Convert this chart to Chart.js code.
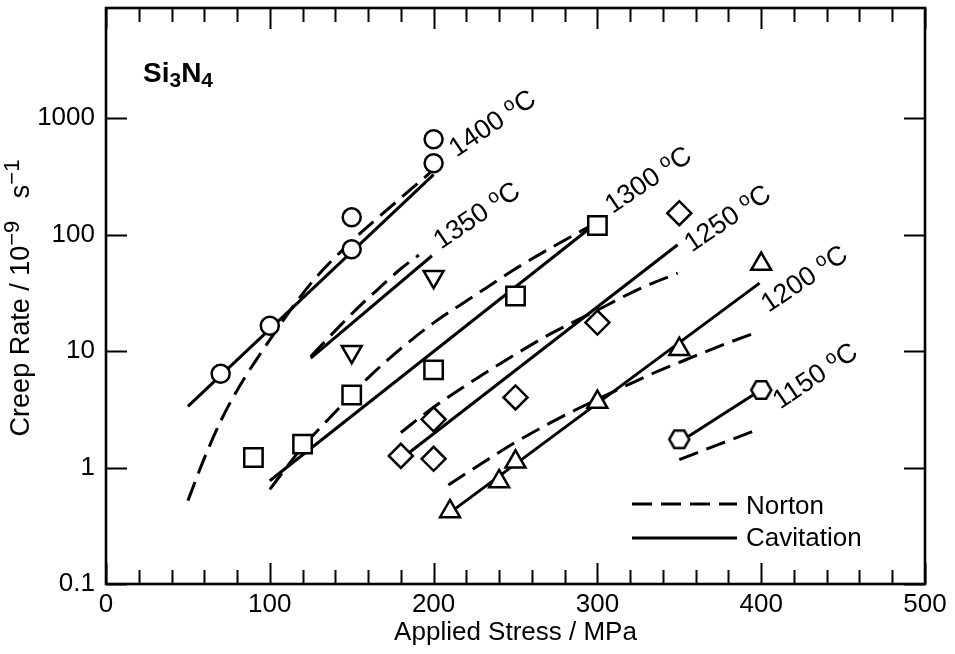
<!DOCTYPE html>
<html>
<head>
<meta charset="utf-8">
<title>Si3N4 creep rate vs applied stress</title>
<script src="https://cdn.jsdelivr.net/npm/chart.js@4.4.1/dist/chart.umd.min.js"></script>
<style>
  html, body { margin: 0; padding: 0; background: #fff; }
  canvas { display: block; }
</style>
</head>
<body>
<canvas id="chart" width="955" height="654"></canvas>
<script>
// ---- measured creep rates [stress MPa, rate 1e-9/s] ----
const pts1400 = [[70, 6.4], [100, 16.5], [150, 75], [150, 141], [200, 411], [200, 661]];
const pts1350 = [[150, 9.9], [200, 43.6]];
const pts1300 = [[90, 1.22], [120, 1.59], [150, 4.2], [200, 6.9], [250, 29.8], [300, 120]];
const pts1250 = [[180, 1.26], [200, 1.19], [200, 2.6], [250, 4.0], [300, 17.6], [350, 153]];
const pts1200 = [[210, 0.42], [240, 0.76], [250, 1.12], [300, 3.65], [350, 10.4], [400, 56]];
const pts1150 = [[350, 1.75], [400, 4.64]];

// ---- cavitation model fits ----
const cav1400 = [[50, 3.35], [200, 328]];
const cav1350 = [[125, 8.7], [199, 66]];
const cav1300 = [[100, 0.77], [300, 128]];
const cav1250 = [[185, 1.34], [349, 82]];
const cav1200 = [[210, 0.41], [399, 38.4]];
const cav1150 = [[350, 1.65], [400, 4.67]];

// ---- Norton (power law) fits ----
const nor1400 = [[50, 0.52], [60, 1.2], [70, 2.5], [80, 4.6], [100, 12.5], [125, 38], [150, 88], [175, 180], [200, 362]];
const nor1350 = [[125, 9.0], [140, 15], [155, 24.5], [165, 33], [180, 51], [191, 67]];
const nor1300 = [[100, 0.65], [120, 1.5], [140, 3.0], [160, 5.9], [180, 10.5], [200, 17.5], [225, 30], [250, 51], [275, 82], [300, 128]];
const nor1250 = [[180, 2.0], [200, 3.3], [230, 6.3], [250, 9.4], [271, 14], [300, 22.5], [325, 34], [349, 46.8]];
const nor1200 = [[209, 0.71], [230, 1.1], [250, 1.65], [270, 2.37], [289, 3.25], [310, 4.5], [330, 6.1], [350, 8.0], [375, 11.1], [397, 14.5]];
const nor1150 = [[350, 1.17], [375, 1.6], [399, 2.15]];

// ---- labels and ticks ----
const tempLabels = ['1400', '1350', '1300', '1250', '1200', '1150'];
const yTicks = [0.1, 1, 10, 100, 1000];
const legendLabels = ['Norton', 'Cavitation'];

const FONT = '"Liberation Sans", Arial, Helvetica, sans-serif';
Chart.defaults.font.family = FONT;
Chart.defaults.color = '#000';

const xy = arr => arr.map(([x, y]) => ({ x, y }));

function hexagonImage(r, lw) {
  const size = 2 * Math.ceil(r + lw);
  const c = document.createElement('canvas');
  c.width = c.height = size;
  const g = c.getContext('2d');
  const m = size / 2;
  g.beginPath();
  for (let i = 0; i < 6; i++) {
    const a = i * Math.PI / 3;
    g.lineTo(m + r * Math.cos(a), m + r * Math.sin(a));
  }
  g.closePath();
  g.fillStyle = '#fff';
  g.fill();
  g.lineWidth = lw;
  g.strokeStyle = '#000';
  g.stroke();
  return c;
}

function markers(pts, style, radius, rotation) {
  return {
    data: xy(pts), showLine: false, order: 0,
    pointStyle: style, pointRadius: radius, pointHoverRadius: radius,
    pointRotation: rotation || 0,
    pointBackgroundColor: '#fff', pointBorderColor: '#000', pointBorderWidth: 2.5
  };
}
function cavLine(pts) {
  return { data: xy(pts), showLine: true, order: 1, borderColor: '#000', borderWidth: 3, pointRadius: 0 };
}
function norLine(pts) {
  return {
    data: xy(pts), showLine: true, order: 1, borderColor: '#000', borderWidth: 3,
    borderDash: [20, 9], cubicInterpolationMode: 'monotone', pointRadius: 0
  };
}

const cavFits = [cav1400, cav1350, cav1300, cav1250, cav1200, cav1150];
// where each temperature label sits, relative to the end of its cavitation fit (px)
const labelShift = [[23, -17], [9, -6], [15, -8], [14, 8], [9, 30], [19, 20]];

function richWidth(ctx, parts) {
  let w = 0;
  for (const p of parts) { ctx.font = (p.bold ? 'bold ' : '') + p.size + 'px ' + FONT; w += ctx.measureText(p.t).width; }
  return w;
}
function drawRich(ctx, parts, x, y) {
  let cx = x;
  for (const p of parts) {
    ctx.font = (p.bold ? 'bold ' : '') + p.size + 'px ' + FONT;
    ctx.fillText(p.t, cx, y + (p.dy || 0));
    cx += ctx.measureText(p.t).width;
  }
}

const decorations = {
  id: 'decorations',
  afterDraw(chart) {
    const { ctx, chartArea: a, scales: { x, y } } = chart;
    ctx.save();
    ctx.strokeStyle = '#000';
    ctx.fillStyle = '#000';
    ctx.setLineDash([]);

    // frame
    ctx.lineWidth = 2.6;
    ctx.strokeRect(a.left, a.top, a.right - a.left, a.bottom - a.top);

    // inward ticks
    ctx.lineWidth = 2;
    ctx.beginPath();
    for (let v = 0; v <= 500; v += 20) {
      const px = Math.round(x.getPixelForValue(v)) + 0.5;
      const len = v % 100 === 0 ? 21 : 14;
      ctx.moveTo(px, a.bottom); ctx.lineTo(px, a.bottom - len);
      ctx.moveTo(px, a.top); ctx.lineTo(px, a.top + len);
    }
    for (const v of yTicks) {
      const py = Math.round(y.getPixelForValue(v)) + 0.5;
      ctx.moveTo(a.left, py); ctx.lineTo(a.left + 21, py);
      ctx.moveTo(a.right, py); ctx.lineTo(a.right - 21, py);
    }
    ctx.stroke();

    ctx.textBaseline = 'alphabetic';
    ctx.textAlign = 'left';

    // material name
    drawRich(ctx, [
      { t: 'Si', size: 28, bold: true }, { t: '3', size: 21, bold: true, dy: 5 },
      { t: 'N', size: 28, bold: true }, { t: '4', size: 21, bold: true, dy: 5 }
    ], a.left + 37, a.top + 74);

    // y axis title
    const yParts = [
      { t: 'Creep Rate / 10', size: 27 }, { t: '\u22129', size: 22, dy: -10 },
      { t: '   s', size: 27 }, { t: '\u22121', size: 22, dy: -10 }
    ];
    const yw = richWidth(ctx, yParts);
    ctx.save();
    ctx.translate(29, (a.top + a.bottom) / 2 + 2);
    ctx.rotate(-Math.PI / 2);
    drawRich(ctx, yParts, -yw / 2, 0);
    ctx.restore();

    // temperature labels along the fits
    tempLabels.forEach((t, i) => {
      const fit = cavFits[i];
      const [sx, sy] = fit[fit.length - 1];
      const px = x.getPixelForValue(sx) + labelShift[i][0];
      const py = y.getPixelForValue(sy) + labelShift[i][1];
      ctx.save();
      ctx.translate(px, py);
      ctx.rotate(-34 * Math.PI / 180);
      drawRich(ctx, [{ t: t + ' ', size: 27 }, { t: 'o', size: 19, dy: -9 }, { t: 'C', size: 27 }], 0, 0);
      ctx.restore();
    });

    // legend
    const lx0 = a.right - 293, lx1 = a.right - 188, tx = a.right - 179;
    ctx.lineWidth = 3;
    ctx.setLineDash([20, 9]);
    ctx.beginPath(); ctx.moveTo(lx0, 504); ctx.lineTo(lx1, 504); ctx.stroke();
    ctx.setLineDash([]);
    ctx.beginPath(); ctx.moveTo(lx0, 538); ctx.lineTo(lx1, 538); ctx.stroke();
    ctx.font = '26px ' + FONT;
    ctx.fillText(legendLabels[0], tx, 514);
    ctx.fillText(legendLabels[1], tx, 546);

    ctx.restore();
  }
};

new Chart(document.getElementById('chart'), {
  type: 'scatter',
  data: {
    datasets: [
      markers(pts1400, 'circle', 9),
      markers(pts1350, 'triangle', 11.5, 180),
      markers(pts1300, 'rect', 13),
      markers(pts1250, 'rectRot', 12),
      markers(pts1200, 'triangle', 11.5),
      markers(pts1150, hexagonImage(10, 2.5), 11),
      cavLine(cav1400), norLine(nor1400),
      cavLine(cav1350), norLine(nor1350),
      cavLine(cav1300), norLine(nor1300),
      cavLine(cav1250), norLine(nor1250),
      cavLine(cav1200), norLine(nor1200),
      cavLine(cav1150), norLine(nor1150)
    ]
  },
  options: {
    responsive: false,
    animation: false,
    devicePixelRatio: 1,
    events: [],
    layout: { autoPadding: false, padding: { top: 8, right: 30, bottom: 0, left: 0 } },
    plugins: { legend: { display: false }, tooltip: { enabled: false } },
    scales: {
      x: {
        type: 'linear', min: 0, max: 500,
        ticks: { stepSize: 100, padding: 5, color: '#000', font: { size: 26 }, maxRotation: 0, autoSkip: false },
        grid: { display: false, drawTicks: false },
        border: { display: false },
        title: { display: true, text: 'Applied Stress / MPa', color: '#000', font: { size: 26 }, padding: { top: 0, bottom: 6 } },
        afterFit(s) { s.height = 70; s.paddingLeft = 0; s.paddingRight = 0; }
      },
      y: {
        type: 'logarithmic', min: 0.1, max: 8860,
        ticks: { padding: 11, color: '#000', font: { size: 26, lineHeight: 0.5 }, autoSkip: false, callback: v => String(v) },
        afterBuildTicks(s) { s.ticks = yTicks.map(v => ({ value: v })); },
        grid: { display: false, drawTicks: false },
        border: { display: false },
        afterFit(s) { s.width = 106; s.paddingTop = 0; s.paddingBottom = 0; }
      }
    }
  },
  plugins: [decorations]
});
</script>
</body>
</html>
